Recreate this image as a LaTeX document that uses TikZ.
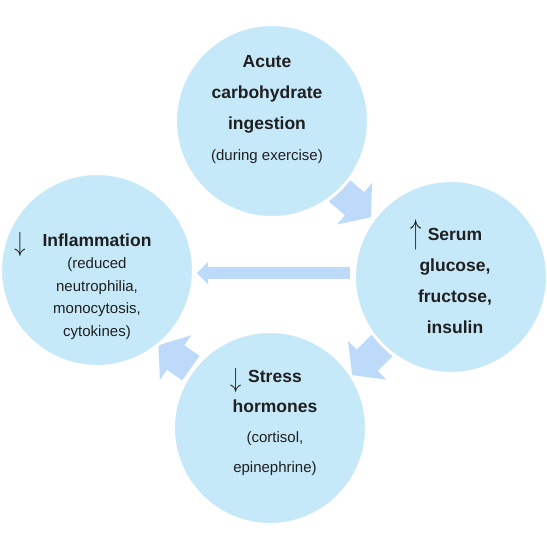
\documentclass[tikz,border=0pt]{standalone}
\usepackage{fontspec}
\setmainfont{Liberation Sans}
\usepackage{graphicx}
\usetikzlibrary{arrows.meta,positioning,calc,backgrounds}
\definecolor{bubblefill}{RGB}{198,233,250}
\definecolor{arrowfill}{RGB}{189,218,250}
\newcommand{\UpMark}{\smash{\raisebox{-3pt}{\scalebox{1.3}[2.0]{$\uparrow$}}}}
\newcommand{\DownMark}{\smash{\raisebox{-5pt}{\scalebox{1.3}[1.6]{$\downarrow$}}}}
\newcommand{\SubTxt}[1]{{\mdseries\fontsize{15}{22}\selectfont #1}}

\begin{document}
\begin{tikzpicture}[x=1pt,y=-1pt,
    bubble/.style={circle, fill=bubblefill, draw=white, line width=3pt, minimum size=193pt, inner sep=0pt},
    fatarrow/.style={draw=arrowfill, line width=30pt, -{Triangle[width=54pt,length=21pt,line width=0.01pt]}},
    flatarrow/.style={draw=arrowfill, line width=12pt, -{Triangle[width=22pt,length=11pt,line width=0.01pt]}},
    bubbletext/.style={align=center, inner sep=0pt, text=black!88}]
  \useasboundingbox (0,0) rectangle (547,547);
  % the four stages
  \node[bubble] (acute)  at (272,121) {};
  \node[bubble] (serum)  at (451,277) {};
  \node[bubble] (stress) at (270,428) {};
  \node[bubble] (inflam) at (97,270) {};
  % texts
  \node[bubbletext, font=\bfseries\fontsize{17.5}{31}\selectfont] (acute-txt) at (267,109.5)
    {Acute\\carbohydrate\\ingestion\\\SubTxt{(during exercise)}};
  \node[bubbletext, font=\bfseries\fontsize{17.5}{31}\selectfont] (serum-txt) at (455,281)
    {\llap{\UpMark\hspace{6pt}}Serum\\glucose,\\fructose,\\insulin};
  \node[bubbletext, font=\bfseries\fontsize{17.5}{30}\selectfont] (stress-txt) at (275,423)
    {\llap{\DownMark\hspace{7pt}}Stress\\hormones\\\SubTxt{(cortisol,}\\\SubTxt{epinephrine)}};
  \node[bubbletext, font=\bfseries\fontsize{17.5}{22.5}\selectfont] (inflam-txt) at (97,286.5)
    {\llap{\DownMark\hspace{17pt}}Inflammation\\\SubTxt{(reduced}\\\SubTxt{neutrophilia,}\\\SubTxt{monocytosis,}\\\SubTxt{cytokines)}};
  % block arrows behind the circles
  \begin{pgfonlayer}{background}
    \draw[fatarrow] ($(acute)!0.41!(serum)+(-7,5)$) -- ($(acute)!0.585!(serum)+(-6,5)$);
    \draw[fatarrow] ($(serum)!0.414!(stress)+(6,6)$) -- ($(serum)!0.59!(stress)+(8,9)$);
    \draw[fatarrow] ($(stress)!0.423!(inflam)+(-6,7)$) -- ($(stress)!0.593!(inflam)+(-9,11)$);
    \draw[flatarrow, shorten <=3pt, shorten >=2pt] ([yshift=4pt]serum.west) -- ([yshift=-3pt]inflam.east);
  \end{pgfonlayer}
\end{tikzpicture}
\end{document}
